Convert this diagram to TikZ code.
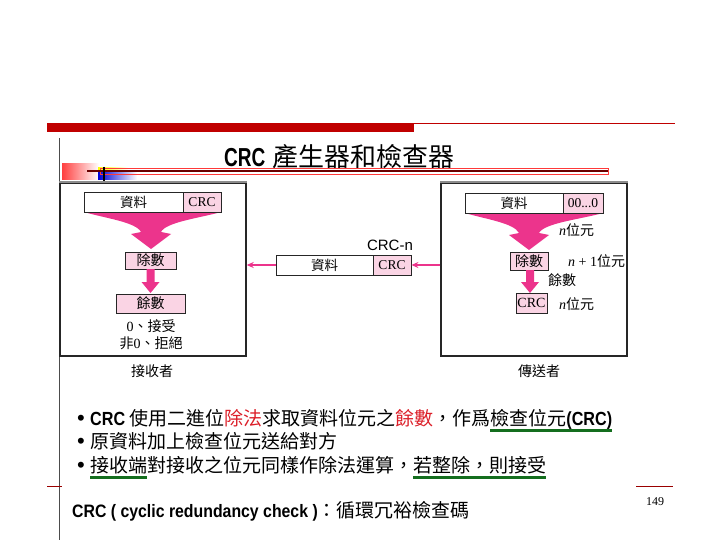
\documentclass[tikz,border=0pt]{standalone}
\usepackage{graphicx}
\usepackage{fontspec}
\setmainfont{Liberation Serif}
\newfontfamily\cjk{Noto Sans CJK TC}
\newfontfamily\arl{Liberation Sans}
\newfontfamily\tnr{Liberation Serif}
\usetikzlibrary{arrows.meta}
\definecolor{hotpink}{RGB}{236,52,140}
\definecolor{boxpink}{RGB}{250,212,228}
\definecolor{darkred}{RGB}{192,0,0}
\definecolor{ulgreen}{RGB}{20,110,30}
\definecolor{txtred}{RGB}{220,30,40}
\newcommand\fsz[1]{\fontsize{#1}{#1}\selectfont}
\newcommand\gul[1]{\setbox0\hbox{#1}\rlap{\color{ulgreen}\raisebox{-6.5pt}{\rule{\wd0}{2.4pt}}}\box0}
\newcommand\bcrc[1]{{\arl\bfseries\scalebox{0.85}[1]{#1}}}
\newcommand\bul{\makebox[13pt][l]{\arl\fsz{22}•}}
\tikzset{
  panel/.style={draw=black!85, line width=1.4pt, minimum height=173pt, inner sep=0pt},
  cellw/.style={draw=black!85, line width=0.8pt, fill=white, minimum height=20pt, inner sep=0pt, font=\cjk\fsz{13.5}},
  cellp/.style={draw=black!85, line width=0.8pt, fill=boxpink, minimum height=20pt, inner sep=0pt, font=\tnr\fsz{13.5}},
  pbox/.style={draw=black!85, line width=0.9pt, fill=boxpink, inner sep=0pt, font=\cjk\fsz{14}},
  lbl/.style={inner sep=0pt, font=\cjk\fsz{14}},
  magarrow/.style={draw=hotpink, line width=1.5pt, -{Stealth[length=7pt,width=6pt]}},
  funnel/.style={fill=hotpink, draw=none},
  bline/.style={inner sep=0pt, anchor=base west, font=\cjk\fsz{19}},
}
\begin{document}
\begin{tikzpicture}[x=1pt,y=-1pt]
\useasboundingbox (0,0) rectangle (720,540);
\fill[white] (0,0) rectangle (720,540);
% header decoration
\fill[darkred] (47,123) rectangle (414,132);
\draw[darkred, line width=0.8pt] (414,123.5) -- (675,123.5);
\draw[black!70, line width=0.7pt] (59,138) -- (59,540);
\draw[darkred!80!black, line width=0.8pt] (47,486) -- (62,486);
\draw[darkred!80!black, line width=0.8pt] (636,486) -- (673,486);
% title
\node[inner sep=0pt, anchor=base west] (title) at (224,167)
  {{\arl\bfseries\fsz{26}\scalebox{0.73}[1]{CRC}}\hspace{7pt}{\cjk\fsz{26}產生器和檢查器}};
\shade[left color=red!75, right color=white] (62,164) rectangle (99,180);
\shade[left color=yellow, right color=white] (98,168) rectangle (128,172);
\shade[left color=blue!85!black, right color=white] (98,172) rectangle (137,180);
\draw[red!70!pink, line width=0.6pt] (100,168.5) rectangle (608,174.5);
\draw[darkred!55!black, line width=1.8pt] (87,171) -- (608,171);
\draw[black, line width=1.5pt] (104,167) -- (104,181);
% panels
\node[panel, minimum width=186pt] (recv) at (153,269.5) {};
\node[panel, minimum width=186pt] (send) at (534,269.5) {};
\draw[black!45, line width=2pt] (recv.north west) -- (recv.north east);
\draw[black!45, line width=2pt] (send.north west) -- (send.north east);
\node[lbl] (recvl) at (152,371) {接收者};
\node[lbl] (sendl) at (539,371) {傳送者};
% left panel content
\fill[funnel] (84,212) -- (221,212)
  .. controls (200,218) and (166,222) .. (161,232) -- (171,234) -- (151,249) -- (131,234) -- (141,232)
  .. controls (136,222) and (104,218) .. (84,212) -- cycle;
\node[cellw, minimum width=99pt] (ld) at (133.5,202) {資料};
\node[cellp, minimum width=38pt] (lc) at (202,202) {CRC};
\node[pbox, minimum width=51pt, minimum height=17pt] (ldiv) at (150.5,260.5) {除數};
\node[pbox, minimum width=69pt, minimum height=19pt] (lrem) at (150.5,303.5) {餘數};
\fill[funnel] (146.5,269) -- (154.5,269) -- (154.5,282) -- (159.5,282) -- (150.5,293) -- (141.5,282) -- (146.5,282) -- cycle;
\node[lbl] (lacc) at (151,326) {{\tnr 0}、接受};
\node[lbl] (lrej) at (151,343) {非{\tnr 0}、拒絕};
% right panel content
\fill[funnel] (465,213) -- (603,213)
  .. controls (582,219) and (544,223) .. (539,233) -- (549,235) -- (529,250) -- (509,235) -- (519,233)
  .. controls (514,223) and (485,219) .. (465,213) -- cycle;
\node[cellw, minimum width=98pt] (rd) at (514,203) {資料};
\node[cellp, minimum width=40pt] (rz) at (583,203) {00...0};
\node[pbox, minimum width=38pt, minimum height=18pt] (rdiv) at (529,261) {除數};
\node[pbox, minimum width=31pt, minimum height=20pt, font=\tnr\fsz{14}] (rcrc) at (531.5,303) {CRC};
\fill[funnel] (526,270) -- (534,270) -- (534,282) -- (539,282) -- (530,293) -- (521,282) -- (526,282) -- cycle;
\node[lbl, anchor=west] (nb1) at (559,230) {{\tnr\itshape n}位元};
\node[lbl, anchor=west] (nb2) at (568,261) {{\tnr\itshape n}{\tnr\ + 1}位元};
\node[lbl, anchor=west] (rrem) at (548,280) {餘數};
\node[lbl, anchor=west] (nb3) at (559,304) {{\tnr\itshape n}位元};
% middle
\node[inner sep=0pt, font=\arl\fsz{15}] (crcn) at (390,245) {CRC-n};
\node[cellw, minimum width=97pt] (md) at (324.5,265) {資料};
\node[cellp, minimum width=38pt] (mc) at (392,265) {CRC};
\draw[magarrow] (mc.east -| send.west) -- (mc.east);
\draw[magarrow] (md.west) -- (md.west -| recv.east);
% bullets
\node[bline] (b1) at (77,425) {\bul\bcrc{CRC} 使用二進位{\color{txtred}除法}求取資料位元之{\color{txtred}餘數}，作爲\gul{檢查位元\bcrc{(CRC)}}};
\node[bline] (b2) at (77,448) {\bul 原資料加上檢查位元送給對方};
\node[bline] (b3) at (77,472) {\bul\gul{接收端}對接收之位元同樣作除法運算，\gul{若整除，則接受}};
% footer
\node[bline] (foot) at (72,517) {{\arl\bfseries\fsz{18}\scalebox{0.88}[1]{CRC ( cyclic redundancy check )}}：循環冗裕檢查碼};
\node[inner sep=0pt, font=\tnr\fsz{12}] (page) at (655,502) {149};
\end{tikzpicture}
\end{document}
